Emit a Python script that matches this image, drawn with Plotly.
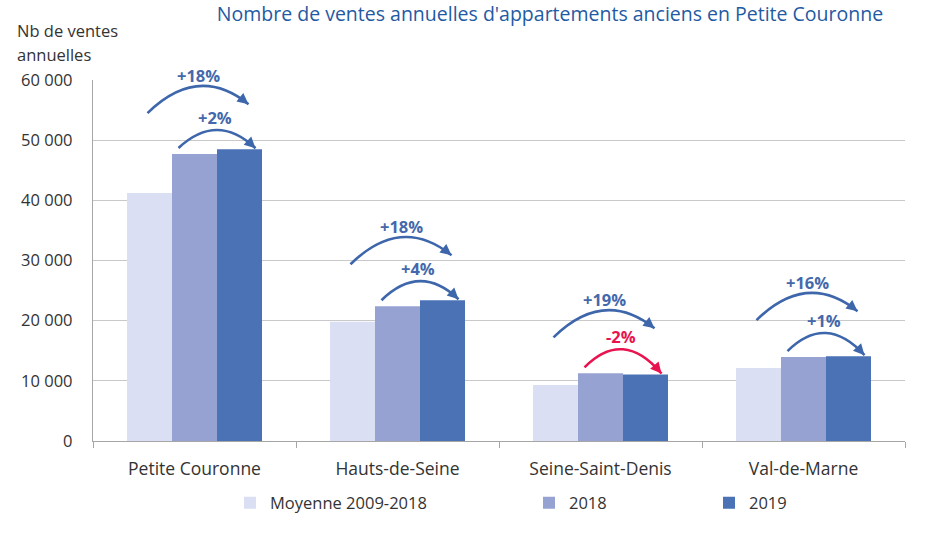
import plotly.graph_objects as go

categories = ["Petite Couronne", "Hauts-de-Seine", "Seine-Saint-Denis", "Val-de-Marne"]
series_names = ["Moyenne 2009-2018", "2018", "2019"]
moyenne = [41200, 19800, 9300, 12150]
v2018 = [47700, 22400, 11250, 13950]
v2019 = [48500, 23400, 11050, 14100]
y_ticks = [0, 10000, 20000, 30000, 40000, 50000, 60000]

colors = ["#dadff3", "#96a3d2", "#4a72b5"]
ARROW_BLUE = "#3d66ab"
LABEL_BLUE = "#4468ab"
RED = "#e8134f"
FONT = "Open Sans"

W, H = 944, 546
ML, MR, MT, MB = 93, 39, 80, 105
PW, PH = W - ML - MR, H - MT - MB
YMAX = 60000
PX_X = PW / len(categories)      # pixels per x unit
PX_Y = PH / YMAX                 # pixels per y unit

fig = go.Figure()
legends = ["legend", "legend2", "legend3"]
for name, vals, col, lg in zip(series_names, [moyenne, v2018, v2019], colors, legends):
    fig.add_trace(go.Bar(x=list(range(len(categories))), y=vals, name=name,
                         marker=dict(color=col, line=dict(width=0)), legend=lg,
                         showlegend=True))

shapes = []
annotations = []


def px_y(p):
    return p / PX_Y


def px_x(p):
    return p / PX_X


def add_arc(i, x0, y0, x1, y1, peak, color, label, lx, ly):
    xc = (x0 + x1) / 2
    yc = 2 * peak - (y0 + y1) / 2
    shapes.append(dict(type="path", xref="x", yref="y",
                       path=f"M{x0},{y0} Q{xc},{yc} {x1},{y1}",
                       line=dict(color=color, width=2.6)))
    ux = (x1 - xc) * PX_X
    uy = -(y1 - yc) * PX_Y
    n = (ux ** 2 + uy ** 2) ** 0.5
    L = 9
    annotations.append(dict(x=x1, y=y1, xref="x", yref="y", text="", showarrow=True,
                            axref="pixel", ayref="pixel",
                            ax=-ux / n * L, ay=-uy / n * L,
                            arrowhead=2, arrowsize=0.85, arrowwidth=2.6,
                            arrowcolor=color, standoff=0))
    annotations.append(dict(x=lx, y=ly / YMAX, xref="x", yref="paper", text=f"<b>{label}</b>",
                            showarrow=False,
                            font=dict(family=FONT, size=16.5, color=color if color == RED else LABEL_BLUE),
                            xanchor="center", yanchor="middle"))


for i in range(len(categories)):
    m, a, b = moyenne[i], v2018[i], v2019[i]
    top = max(m, a, b)
    # big arc : moyenne -> 2019
    pct_big = round((b / m - 1) * 100)
    y0 = top + px_y(36)
    y1 = y0 + px_y(9)
    peak = y0 + px_y(27)
    add_arc(i, i - px_x(47), y0, i + px_x(54), y1, peak, ARROW_BLUE,
            f"{pct_big:+d}%", i + px_x(4), peak + px_y(11))
    # small arc : 2018 -> 2019
    pct_small = round((b / a - 1) * 100)
    col = RED if pct_small < 0 else ARROW_BLUE
    s0 = a + px_y(6)
    s1 = b + px_y(1)
    speak = max(s0, s1) + px_y(18)
    add_arc(i, i - px_x(16), s0, i + px_x(61), s1, speak, col,
            f"{pct_small:+d}%", i + px_x(20), speak + px_y(13))

# Y axis title (two lines)
for txt, ypx in [("Nb de ventes", 30), ("annuelles", 54)]:
    annotations.append(dict(x=(15 - ML) / PW, y=(H - MB - ypx) / PH, xref="paper", yref="paper",
                            text=txt, showarrow=False, align="left",
                            xanchor="left", yanchor="middle",
                            font=dict(family=FONT, size=16.5, color="#333333")))

leg_px = [244, 543, 723]
legend_layout = {}
for lg, px in zip(legends, leg_px):
    legend_layout[lg] = dict(x=(px - 14 - ML) / PW, y=(H - MB - 503) / PH,
                             xanchor="left", yanchor="middle", orientation="h",
                             font=dict(family=FONT, size=16.5, color="#333333"),
                             bgcolor="rgba(0,0,0,0)")

fig.update_layout(
    width=W, height=H, autosize=False, showlegend=True,
    margin=dict(l=ML, r=MR, t=MT, b=MB, pad=0),
    paper_bgcolor="white", plot_bgcolor="white",
    barmode="group", bargap=0.335, bargroupgap=0,
    separators=", ",
    title=dict(text="Nombre de ventes annuelles d'appartements anciens en Petite Couronne",
               x=550 / W, y=1 - 14 / H, xref="container", yref="container",
               xanchor="center", yanchor="middle",
               font=dict(family=FONT, size=19.5, color="#1f5aa3")),
    font=dict(family=FONT, size=16, color="#333333"),
    xaxis=dict(range=[-0.5, len(categories) - 0.5], tickvals=list(range(len(categories))),
               ticktext=categories, ticks="", showgrid=False, zeroline=False,
               showline=True, linecolor="#a6a6a6", linewidth=1.3,
               ticklabelstandoff=12,
               tickfont=dict(family=FONT, size=17.5, color="#333333"),
               minor=dict(tickvals=[k - 0.5 for k in range(len(categories) + 1)],
                          ticks="outside", ticklen=6, tickcolor="#a6a6a6", tickwidth=1.3,
                          showgrid=False)),
    yaxis=dict(range=[0, YMAX], tickvals=y_ticks, tickformat=",d",
               showgrid=True, gridcolor="#c9c9c9", gridwidth=1.3, zeroline=False,
               showline=True, linecolor="#a6a6a6", linewidth=1.3, ticks="",
               ticklabelstandoff=16,
               tickfont=dict(family=FONT, size=16.5, color="#333333")),
    shapes=shapes, annotations=annotations,
    **legend_layout,
)

fig.write_html("out.html")
